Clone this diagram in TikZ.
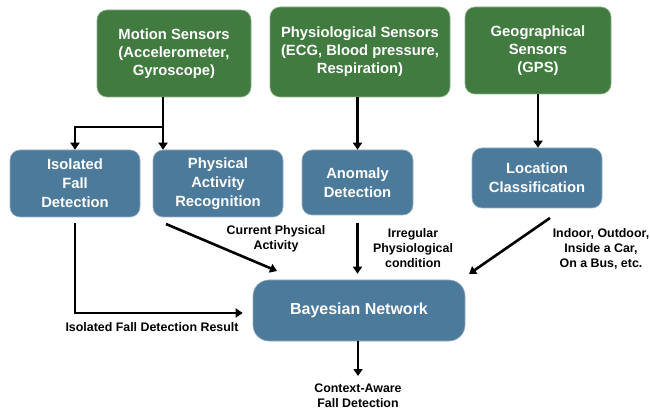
\documentclass[tikz,border=0pt]{standalone}
\usepackage{fontspec}
\setmainfont{Liberation Sans}
\usetikzlibrary{arrows.meta}
\definecolor{sgreen}{RGB}{65,123,64}
\definecolor{sblue}{RGB}{76,122,155}
\tikzset{
  gbox/.style={draw=sgreen!60!white, line width=0.6pt, fill=sgreen, rounded corners=10pt, text=white, font=\bfseries\fontsize{14.8}{18}\selectfont, align=center, inner sep=2pt},
  bbox/.style={draw=sblue!60!white, line width=0.6pt, fill=sblue, rounded corners=10pt, text=white, font=\bfseries\fontsize{14.8}{19}\selectfont, align=center, inner sep=2pt},
  arr/.style={line width=2.6pt, -{Triangle[length=7pt,width=9pt]}},
  lbl/.style={font=\bfseries\fontsize{12.4}{15}\selectfont, align=center, inner sep=0pt}
}
\begin{document}
\begin{tikzpicture}[x=1pt,y=-1pt]
\useasboundingbox (0,0) rectangle (650,411);
\node[gbox, minimum width=154pt, minimum height=87pt] (motion) at (174,53.5) {Motion Sensors\\(Accelerometer,\\Gyroscope)};
\node[gbox, minimum width=180pt, minimum height=90pt] (physio) at (360,52) {Physiological Sensors\\(ECG, Blood pressure,\\Respiration)};
\node[gbox, minimum width=146pt, minimum height=87pt] (geo) at (538,50.5) {Geographical\\Sensors\\(GPS)};

\node[bbox, minimum width=130pt, minimum height=67pt] (iso) at (75,183.5) {Isolated\\Fall\\Detection};
\node[bbox, minimum width=130pt, minimum height=67pt] (par) at (218,183.5) {Physical\\Activity\\Recognition};
\node[bbox, minimum width=111pt, minimum height=65pt] (anom) at (357.5,182.5) {Anomaly\\Detection};
\node[bbox, minimum width=130pt, minimum height=60pt] (loc) at (537,178) {Location\\Classification};
\node[bbox, rounded corners=16pt, minimum width=212pt, minimum height=61pt, font=\bfseries\fontsize{16}{19}\selectfont] (bn) at (359,310.5) {Bayesian Network};

\coordinate (j) at (163,127);
\draw[line width=2.6pt] (motion.south -| j) -- (j);
\draw[arr] (j) -- (par.north -| j);
\draw[arr] (j) -| (iso.north);
\draw[arr] (physio.south -| anom.north) -- (anom.north);
\draw[arr] (geo.south) -- (loc.north -| geo.south);

\coordinate (isoout) at (75,223);
\draw[arr] (isoout) |- ([xshift=-10pt]bn.west |- 0,313);
\coordinate (parout) at (166,224);
\coordinate (parend) at (277,271);
\draw[arr] (parout) -- (parend);
\draw[arr] ([yshift=-8pt]anom.south) -- ([yshift=6pt]bn.north -| anom.south);
\coordinate (locout) at (550,218);
\coordinate (locend) at (469,274);
\draw[arr] (locout) -- (locend);
\coordinate (ctx) at (358,376);
\draw[arr] (bn.south -| ctx) -- (ctx);

\node[lbl] (l1) at (152,327) {Isolated Fall Detection Result};
\node[lbl] (l2) at (276,239) {Current Physical\\Activity};
\node[lbl] (l3) at (413,248) {Irregular\\Physiological\\condition};
\node[lbl] (l4) at (601,249) {Indoor, Outdoor,\\Inside a Car,\\On a Bus, etc.};
\node[lbl] (l5) at (358,396) {Context-Aware\\Fall Detection};
\end{tikzpicture}
\end{document}
